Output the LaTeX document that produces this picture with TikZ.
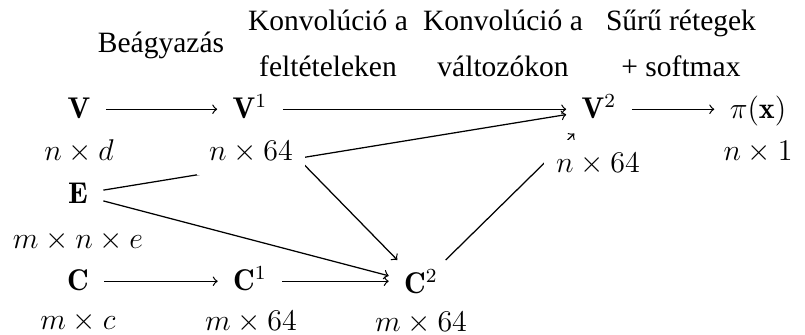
\documentclass[tikz,border=0pt]{standalone}
\usepackage{fontspec}
\newfontfamily\hdrfont{Liberation Serif}
\begin{document}
\begin{tikzpicture}[x=0.4pt,y=-0.4pt,
  mnode/.style={font=\fontsize{12}{14}\selectfont, inner xsep=6pt, inner ysep=3pt,
    text height=10pt, text depth=3pt, anchor=base},
  dimlabel/.style={font=\fontsize{12}{14}\selectfont, inner sep=5pt, fill=white, anchor=base},
  hdr/.style={font=\hdrfont\fontsize{11.8}{18.4}\selectfont, align=center, anchor=base, inner sep=0pt},
  conn/.style={line width=0.5pt, ->}
]
\useasboundingbox (0,0) rectangle (805,334);
% headers (base anchor = baseline of the last line)
\node[hdr] (h1) at (161,52) {Beágyazás};
\node[hdr] (h2) at (328,76) {Konvolúció a\\feltételeken};
\node[hdr] (h3) at (503,76) {Konvolúció a\\változókon};
\node[hdr] (h4) at (681,76) {Sűrű rétegek\\+ softmax};
% main nodes
\node[mnode] (V)  at (79,118)  {$\mathbf{V}$};
\node[mnode] (V1) at (250,118) {$\mathbf{V}^1$};
\node[mnode] (V2) at (599,118) {$\mathbf{V}^2$};
\node[mnode] (pi) at (758,118) {$\pi(\mathbf{x})$};
\node[mnode] (E)  at (78,203)  {$\mathbf{E}$};
\node[mnode] (C)  at (78,290)  {$\mathbf{C}$};
\node[mnode] (C1) at (250,290) {$\mathbf{C}^1$};
\node[mnode] (C2) at (421,293) {$\mathbf{C}^2$};
% connectors
\draw[conn] (V) -- (V1);
\draw[conn] (V1) -- (V2);
\draw[conn] (V2) -- (pi);
\draw[conn] (C) -- (C1);
\draw[conn] (C1.east) -- (C1.east -| C2.west);
\draw[conn] (E) -- (V2);
\draw[conn] (E) -- (C2);
\draw[conn] (V1) -- (C2);
\draw[conn] (C2) -- (V2);
% dimension labels
\node[dimlabel] (lV)  at (79,160)  {$n \times d$};
\node[dimlabel] (lV1) at (251,160) {$n \times 64$};
\node[dimlabel] (lV2) at (598,172) {$n \times 64$};
\node[dimlabel] (lpi) at (758,160) {$n \times 1$};
\node[dimlabel] (lE)  at (78,248)  {$m \times n \times e$};
\node[dimlabel] (lC)  at (78,329)  {$m \times c$};
\node[dimlabel] (lC1) at (251,330) {$m \times 64$};
\node[dimlabel] (lC2) at (421,331) {$m \times 64$};
\end{tikzpicture}
\end{document}
